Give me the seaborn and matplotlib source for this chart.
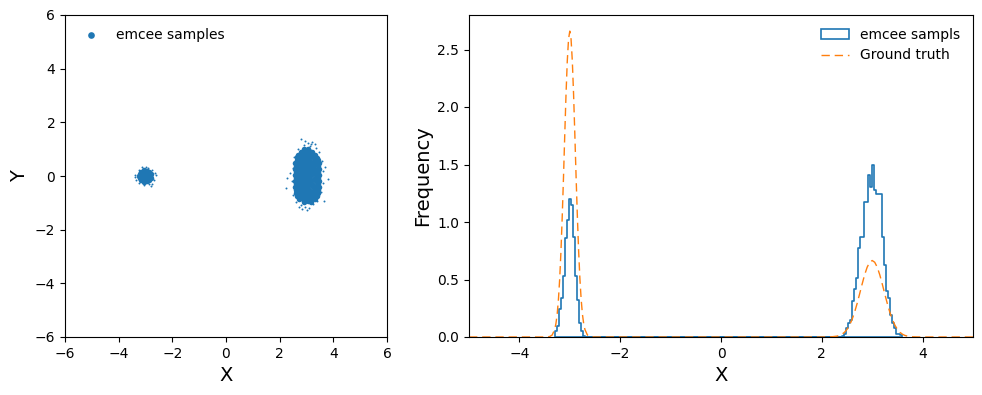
import matplotlib
matplotlib.use("Agg")
import matplotlib.pyplot as plt
import seaborn as sns
import numpy as np
from matplotlib.patches import Patch
from matplotlib.lines import Line2D

BLUE = "#1f77b4"
ORANGE = "#ff7f0e"

# --- scatter samples (dense cores) ---
core_x = [
    2.90, 3.04, 3.16,
    2.72, 2.86, 3.01, 3.16, 3.31,
    2.64, 2.79, 2.94, 3.10, 3.25, 3.39,
    2.60, 2.73, 2.88, 3.03, 3.18, 3.33, 3.44,
    2.62, 2.78, 2.95, 3.11, 3.27, 3.42,
    2.57, 2.71, 2.87, 3.03, 3.19, 3.35, 3.47,
    2.61, 2.79, 2.94, 3.10, 3.26, 3.43,
    2.56, 2.70, 2.86, 3.02, 3.18, 3.34, 3.48,
    2.62, 2.78, 2.94, 3.10, 3.27, 3.43,
    2.57, 2.71, 2.87, 3.02, 3.18, 3.35, 3.47,
    2.61, 2.79, 2.95, 3.11, 3.26, 3.42,
    2.58, 2.72, 2.86, 3.03, 3.19, 3.34, 3.46,
    2.62, 2.78, 2.94, 3.10, 3.26, 3.42,
    2.59, 2.71, 2.87, 3.02, 3.18, 3.33, 3.45,
    2.63, 2.79, 2.95, 3.11, 3.27, 3.41,
    2.65, 2.80, 2.96, 3.09, 3.24, 3.38,
    2.70, 2.86, 3.02, 3.17, 3.32,
    2.78, 2.93, 3.08, 3.22,
    2.92, 3.06,
    -3.05, -2.95,
    -3.16, -3.06, -2.96, -2.86,
    -3.21, -3.11, -3.01, -2.91, -2.81,
    -3.23, -3.13, -3.03, -2.93, -2.83,
    -3.20, -3.10, -3.00, -2.90, -2.80,
    -3.15, -3.05, -2.95, -2.86,
    -3.06, -2.96,
]
core_y = [
    -0.97, -0.95, -0.96,
    -0.86, -0.84, -0.85, -0.87, -0.84,
    -0.73, -0.75, -0.74, -0.72, -0.75, -0.73,
    -0.63, -0.62, -0.64, -0.63, -0.61, -0.64, -0.62,
    -0.52, -0.53, -0.51, -0.52, -0.54, -0.51,
    -0.41, -0.40, -0.42, -0.41, -0.39, -0.42, -0.40,
    -0.30, -0.31, -0.29, -0.30, -0.32, -0.29,
    -0.19, -0.18, -0.20, -0.19, -0.17, -0.20, -0.18,
    -0.08, -0.09, -0.07, -0.08, -0.10, -0.07,
    0.03, 0.04, 0.02, 0.03, 0.05, 0.02, 0.04,
    0.14, 0.13, 0.15, 0.14, 0.12, 0.15,
    0.25, 0.26, 0.24, 0.25, 0.27, 0.24, 0.26,
    0.36, 0.35, 0.37, 0.36, 0.34, 0.37,
    0.47, 0.48, 0.46, 0.47, 0.49, 0.46, 0.48,
    0.58, 0.57, 0.59, 0.58, 0.56, 0.59,
    0.69, 0.70, 0.68, 0.69, 0.71, 0.68,
    0.80, 0.79, 0.81, 0.80, 0.78,
    0.91, 0.90, 0.92, 0.90,
    1.00, 0.99,
    -0.21, -0.20,
    -0.14, -0.15, -0.13, -0.14,
    -0.07, -0.08, -0.06, -0.07, -0.08,
    0.00, 0.01, -0.01, 0.00, 0.01,
    0.07, 0.08, 0.06, 0.07, 0.06,
    0.14, 0.15, 0.13, 0.14,
    0.21, 0.20,
]

# --- scatter samples (sparse tails) ---
tail_x = [2.24, 2.28, 3.80, 3.66, 2.80, 3.22, 2.95, 3.05, 2.90, 3.12, 2.55, 2.48,
          2.45, 2.50, 2.62, 2.78, 2.95, 3.10, 3.25, 3.40, 3.55, 3.62, 3.60, 3.57,
          3.45, 2.68, 3.35, 2.38, 3.68, 2.72, 3.02, 3.30, 2.84, 3.18,
          -3.38, -3.36, -2.64, -2.68, -3.12, -2.92, -3.05, -2.86, -3.26, -2.74,
          -3.24, -2.76, -3.40, -2.62, -2.78, -3.00]
tail_y = [-0.45, -0.07, -0.10, -0.93, 1.38, 1.25, 1.30, 1.22, 1.16, 1.10, 0.72, 0.30,
          -0.20, -0.70, -0.98, -1.08, -1.15, -1.18, -1.05, -0.92, -0.60, -0.25, 0.20, 0.55,
          0.90, 1.02, 1.05, 0.12, 0.35, -1.16, -1.28, 1.18, -1.22, 1.20,
          0.05, -0.16, 0.12, -0.14, 0.32, 0.30, -0.34, -0.28, 0.24, 0.24,
          -0.26, -0.30, -0.04, 0.02, -0.36, 0.35]

# --- histogram of emcee samples (bin centres, bin width 0.04) ---
bin_w = 0.04
hist_x = [-3.28, -3.24, -3.20, -3.16, -3.12, -3.08, -3.04, -3.00, -2.96, -2.92,
          -2.88, -2.84, -2.80, -2.76, -2.72,
          2.42, 2.46, 2.50, 2.54, 2.58, 2.62, 2.66, 2.70, 2.74, 2.78,
          2.82, 2.86, 2.90, 2.94, 2.98, 3.02, 3.06, 3.10, 3.14, 3.18,
          3.22, 3.26, 3.30, 3.34, 3.38, 3.42, 3.46, 3.50, 3.54, 3.58]
hist_y = [0.05, 0.10, 0.24, 0.34, 0.53, 0.86, 1.02, 1.20, 1.15, 0.87,
          0.53, 0.32, 0.12, 0.05, 0.01,
          0.01, 0.03, 0.075, 0.12, 0.15, 0.31, 0.42, 0.51, 0.77, 0.87,
          0.87, 1.17, 1.17, 1.41, 1.30, 1.50, 1.28, 1.24, 1.24, 1.24,
          0.87, 0.63, 0.40, 0.34, 0.19, 0.12, 0.075, 0.03, 0.03, 0.015]

# --- ground truth density ---
gt_x = [-5.0, -3.5, -3.4, -3.35, -3.3, -3.275, -3.25, -3.225, -3.2, -3.175,
        -3.15, -3.125, -3.1, -3.075, -3.05, -3.025, -3.0, -2.975, -2.95, -2.925,
        -2.9, -2.875, -2.85, -2.825, -2.8, -2.775, -2.75, -2.725, -2.7, -2.65,
        -2.6, -2.5,
        2.0, 2.1, 2.2, 2.3, 2.35, 2.4, 2.45, 2.5, 2.55, 2.6, 2.65, 2.7, 2.75,
        2.8, 2.85, 2.9, 2.95, 3.0, 3.05, 3.1, 3.15, 3.2, 3.25, 3.3, 3.35, 3.4,
        3.45, 3.5, 3.55, 3.6, 3.65, 3.7, 3.8, 3.9, 4.0, 5.0]
gt_y = [0.0, 0.0, 0.0036, 0.017, 0.065, 0.117, 0.20, 0.33, 0.51, 0.75,
        1.05, 1.39, 1.76, 2.11, 2.40, 2.59, 2.66, 2.59, 2.40, 2.11,
        1.76, 1.39, 1.05, 0.75, 0.51, 0.33, 0.20, 0.117, 0.065, 0.017,
        0.0036, 0.0,
        0.0, 0.0004, 0.0018, 0.0073, 0.0136, 0.0241, 0.041, 0.0666, 0.103, 0.152,
        0.215, 0.290, 0.374, 0.460, 0.541, 0.607, 0.650, 0.665, 0.650, 0.607,
        0.541, 0.460, 0.374, 0.290, 0.215, 0.152, 0.103, 0.0666, 0.041, 0.0241,
        0.0136, 0.0073, 0.0018, 0.0004, 0.0, 0.0]

fig = plt.figure(figsize=(9.82, 3.95), dpi=100)
ax1 = fig.add_axes([65 / 982, 58 / 395, 322 / 982, 322 / 395])
ax2 = fig.add_axes([469 / 982, 58 / 395, 504 / 982, 322 / 395])

# left: samples scatter
sns.scatterplot(x=core_x, y=core_y, s=16, linewidth=0, color=BLUE,
                label="emcee samples", legend=False, ax=ax1)
sns.scatterplot(x=tail_x, y=tail_y, s=2, linewidth=0, color=BLUE,
                legend=False, ax=ax1)
ax1.set_xlim(-6, 6)
ax1.set_ylim(-6, 6)
ax1.set_xticks([-6, -4, -2, 0, 2, 4, 6])
ax1.set_yticks([-6, -4, -2, 0, 2, 4, 6])
ax1.set_xlabel("X", fontsize=14)
ax1.set_ylabel("Y", fontsize=14)
ax1.legend(loc="upper left", frameon=False, markerscale=1.2)

# right: histogram + ground truth
cx = np.array(hist_x)
edges = np.unique(np.round(np.concatenate([cx - bin_w / 2, cx + bin_w / 2]), 3)).tolist()
sns.histplot(x=hist_x, weights=hist_y, bins=edges, stat="count",
             element="step", fill=True, facecolor="none", edgecolor=BLUE,
             color=BLUE, linewidth=1.2, alpha=1, ax=ax2)
dash = (0, (6, 3.5))
sns.lineplot(x=gt_x, y=gt_y, color=ORANGE, linewidth=1.0,
             linestyle=dash, ax=ax2)
ax2.set_xlim(-5, 5)
ax2.set_ylim(0, 2.8)
ax2.set_xticks([-4, -2, 0, 2, 4])
ax2.set_yticks([0.0, 0.5, 1.0, 1.5, 2.0, 2.5])
ax2.set_yticklabels(["0.0", "0.5", "1.0", "1.5", "2.0", "2.5"])
ax2.set_xlabel("X", fontsize=14)
ax2.set_ylabel("Frequency", fontsize=14)
handles = [Patch(facecolor="none", edgecolor=BLUE, linewidth=1.2),
           Line2D([], [], color=ORANGE, linewidth=1.0, linestyle=dash)]
ax2.legend(handles, ["emcee sampls", "Ground truth"], loc="upper right", frameon=False)

fig.savefig("out.png", dpi=100)
